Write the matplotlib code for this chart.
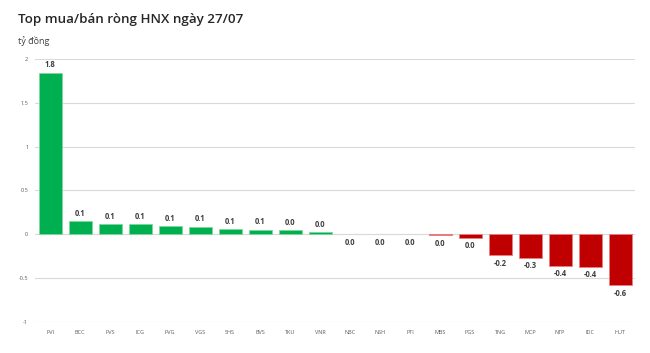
import matplotlib.pyplot as plt
import numpy as np

plt.rcParams['font.family'] = ['Open Sans', 'DejaVu Sans']

# 데이터
tickers = ['PVI', 'BCC', 'PVS', 'ICG', 'PVG', 'VGS', 'SHS', 'BVS', 'TKU', 'VNR',
           'NBC', 'NSH', 'PTI', 'MBS', 'PGS', 'TNG', 'MCP', 'NTP', 'IDC', 'HUT']
values = [1.84, 0.148, 0.114, 0.114, 0.09, 0.085, 0.06, 0.05, 0.045, 0.025,
          0.0, 0.0, 0.0, -0.01, -0.04, -0.24, -0.27, -0.36, -0.37, -0.58]
yticks = [-1, -0.5, 0, 0.5, 1, 1.5, 2]
ytick_labels = ['-1', '-0.5', '0', '0.5', '1', '1.5', '2']

fig = plt.figure(figsize=(6.5, 3.53), dpi=100)
ax = fig.add_axes([0.054, 0.088, 0.923, 0.745])

x = np.arange(len(tickers))
colors = ['#00B050' if v > 0 else '#C00000' for v in values]
edges = ['#7ED99A' if v > 0 else '#E88080' for v in values]
ax.bar(x, values, width=0.77, color=colors, edgecolor=edges,
       linewidth=[0.6 if v != 0 else 0 for v in values], zorder=3)

for xi, v in zip(x, values):
    label = f'{v:.1f}'
    if label == '-0.0':
        label = '0.0'
    if v > 0:
        ax.text(xi, v + 0.04, label, ha='center', va='bottom', fontsize=5.5,
                fontweight='bold', color='#404040')
    else:
        ax.text(xi, v - 0.04, label, ha='center', va='top', fontsize=5.5,
                fontweight='bold', color='#404040')

ax.set_xlim(-0.5, len(tickers) - 0.5)
ax.set_ylim(-1, 2)
ax.set_yticks(yticks)
ax.set_yticklabels(ytick_labels)
ax.set_xticks(x)
ax.set_xticklabels(tickers)
ax.tick_params(axis='both', length=0, labelsize=4, labelcolor='#595959')
ax.tick_params(axis='y', pad=5)
ax.tick_params(axis='x', pad=6)
ax.grid(axis='y', color='#D9D9D9', linewidth=0.8, zorder=0)
for s in ax.spines.values():
    s.set_visible(False)

fig.text(0.028, 0.945, 'Top mua/bán ròng HNX ngày 27/07', fontsize=9.6,
         fontweight='semibold', color='#262626', va='center')
fig.text(0.028, 0.885, 'tỷ đồng', fontsize=6.5, color='#404040', va='center')

plt.savefig('out.png', dpi=100)
